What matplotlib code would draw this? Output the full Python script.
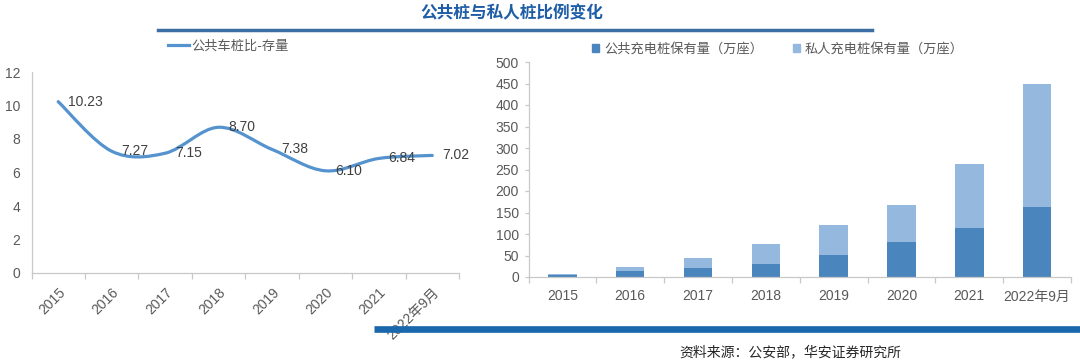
import matplotlib
matplotlib.use("Agg")
import matplotlib.pyplot as plt
from matplotlib.path import Path
from matplotlib.patches import PathPatch, Patch
from matplotlib.lines import Line2D

plt.rcParams["font.family"] = ["Liberation Sans", "Noto Sans CJK SC", "DejaVu Sans"]
CJK = ["Noto Sans CJK SC", "DejaVu Sans"]

# --- datos ---
years = ["2015", "2016", "2017", "2018", "2019", "2020", "2021", "2022年9月"]
ratio = [10.23, 7.27, 7.15, 8.70, 7.38, 6.10, 6.84, 7.02]
public = [5.8, 14.1, 21.4, 30.0, 51.6, 80.7, 114.7, 163.6]
private = [1.0, 8.0, 23.2, 47.7, 70.3, 87.4, 147.0, 284.2]

title = "公共桩与私人桩比例变化"
line_label = "公共车桩比-存量"
pub_label = "公共充电桩保有量（万座）"
pri_label = "私人充电桩保有量（万座）"
source = "资料来源：公安部，华安证券研究所"

LINE_C = "#5593cf"
PUB_C = "#4a85bd"
PRI_C = "#95b8df"
AX_C = "#c8c8c8"
TXT_C = "#595959"

W, H = 1080, 360
fig = plt.figure(figsize=(W / 100, H / 100), dpi=100)


def fx(px):
    return px / W


def fy(py):
    return 1 - py / H


def smooth_path(xs, ys):
    # curva suavizada tipo Excel (Catmull-Rom -> Bezier cubica)
    pts = list(zip(xs, ys))
    verts = [pts[0]]
    codes = [Path.MOVETO]
    n = len(pts)
    for i in range(n - 1):
        p0 = pts[i - 1] if i > 0 else pts[i]
        p1, p2 = pts[i], pts[i + 1]
        p3 = pts[i + 2] if i + 2 < n else pts[i + 1]
        c1 = (p1[0] + (p2[0] - p0[0]) / 6, p1[1] + (p2[1] - p0[1]) / 6)
        c2 = (p2[0] - (p3[0] - p1[0]) / 6, p2[1] - (p3[1] - p1[1]) / 6)
        verts += [c1, c2, p2]
        codes += [Path.CURVE4] * 3
    return Path(verts, codes)


def style_axes(ax):
    for s in ("top", "right"):
        ax.spines[s].set_visible(False)
    for s in ("left", "bottom"):
        ax.spines[s].set_color(AX_C)
        ax.spines[s].set_linewidth(0.9)
    n = len(years)
    ax.set_xlim(-0.5, n - 0.5)
    ax.set_xticks(range(n))
    ax.set_xticks([i - 0.5 for i in range(n + 1)], minor=True)
    ax.tick_params(axis="x", which="major", length=0, colors=TXT_C, labelsize=10)
    ax.tick_params(axis="x", which="minor", length=4, color=AX_C, width=0.9)


# --- izquierda: linea ---
ax1 = fig.add_axes([fx(31.5), fy(273), fx(459) - fx(31.5), fy(72) - fy(273)])
style_axes(ax1)
xs = list(range(len(years)))
ax1.add_patch(PathPatch(smooth_path(xs, ratio), fill=False, edgecolor=LINE_C,
                        lw=2.3, capstyle="round", joinstyle="round"))
for x, v in zip(xs, ratio):
    ax1.annotate(f"{v:.2f}", (x, v), xytext=(7, 0), textcoords="offset points",
                 va="center", ha="left", fontsize=10, color="#404040")
ax1.set_ylim(0, 12)
ax1.set_yticks(range(0, 13, 2))
ax1.tick_params(axis="y", length=0, colors=TXT_C, labelsize=10, pad=8)
ax1.set_xticklabels(years, rotation=45, ha="right", rotation_mode="anchor")
ax1.tick_params(axis="x", which="major", pad=9)
for t in ax1.get_xticklabels():
    t.set_fontfamily(["Liberation Sans", "Noto Sans CJK SC"])
ax1.legend([Line2D([], [], color=LINE_C, lw=2.3)], [line_label],
           loc="center left", bbox_to_anchor=(fx(168), fy(46.5)),
           bbox_transform=fig.transFigure, frameon=False, borderpad=0,
           borderaxespad=0, handlelength=1.6, handletextpad=0.2,
           prop={"family": CJK, "size": 9.5}, labelcolor=TXT_C)

# --- derecha: barras apiladas ---
ax2 = fig.add_axes([fx(528.5), fy(277), fx(1071) - fx(528.5), fy(62) - fy(277)])
style_axes(ax2)
ax2.bar(xs, public, width=0.42, color=PUB_C, label=pub_label)
ax2.bar(xs, private, width=0.42, bottom=public, color=PRI_C, label=pri_label)
ax2.set_ylim(0, 500)
ax2.set_yticks(range(0, 501, 50))
ax2.tick_params(axis="y", length=3, color=AX_C, width=0.9, colors=TXT_C,
                labelsize=10, pad=4)
ax2.set_xticklabels(years)
ax2.tick_params(axis="x", which="major", pad=9)
handles = [Patch(color=PUB_C), Patch(color=PRI_C)]
ax2.legend(handles, [pub_label, pri_label], loc="center left", ncol=2,
           bbox_to_anchor=(fx(592), fy(49)), bbox_transform=fig.transFigure,
           frameon=False, borderpad=0, borderaxespad=0, handlelength=0.55,
           handleheight=0.55, handletextpad=0.35, columnspacing=2.3,
           prop={"family": CJK, "size": 9.5}, labelcolor=TXT_C)

# --- titulo, lineas decorativas y fuente ---
fig.text(fx(512), fy(13), title, ha="center", va="center", fontsize=12,
         fontweight="bold", color="#1f5ea6", family=CJK)
fig.add_artist(Line2D([fx(158), fx(872)], [fy(30), fy(30)], color="#3c6ea5",
                      lw=2.5, transform=fig.transFigure))
fig.add_artist(Line2D([fx(374), fx(1080)], [fy(328.5), fy(328.5)], color="#1a67ab",
                      lw=4.8, transform=fig.transFigure, solid_capstyle="butt"))
fig.text(fx(790), fy(352), source, ha="center", va="center", fontsize=10,
         color="#262626", family=CJK)

fig.savefig("out.png", dpi=100)
